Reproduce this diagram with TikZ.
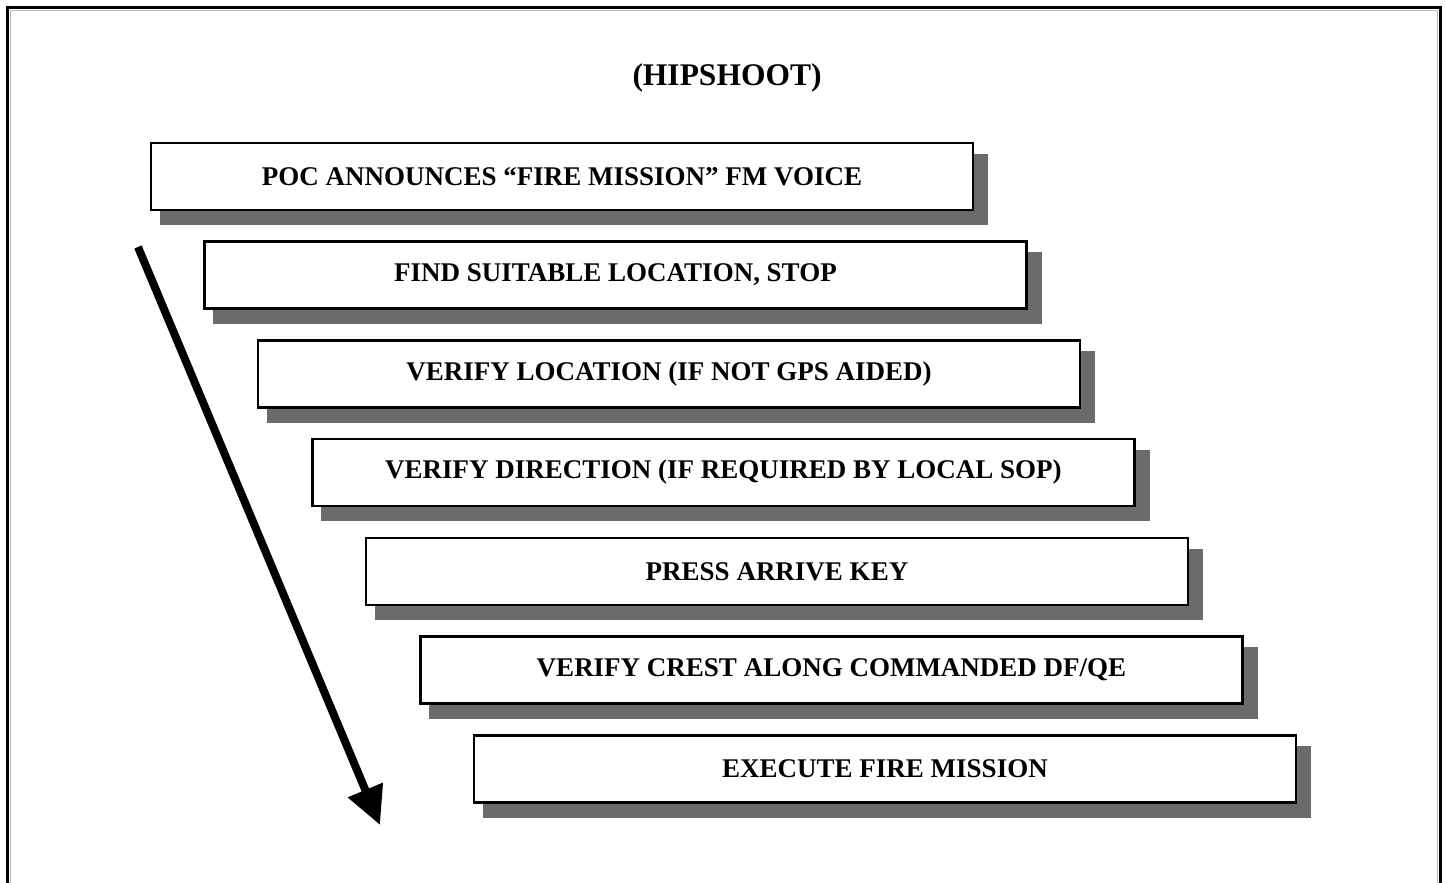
\documentclass[tikz,border=0pt]{standalone}
\usepackage{fontspec}
\setmainfont{Liberation Serif}
\usetikzlibrary{arrows.meta,backgrounds}
\definecolor{shadowgray}{HTML}{6B6B6B}
\definecolor{framegray}{HTML}{BDBDBD}
\tikzset{
  stepbox/.style={draw=black, line width=2.5pt, fill=white, minimum width=822pt,
    minimum height=67pt, inner sep=0pt, font=\bfseries\fontsize{27}{32}\selectfont},
  boxshadow/.style={fill=shadowgray},
  flowarrow/.style={line width=8pt, -{Triangle[length=38pt,width=36pt]}},
}
\newcommand{\shadowof}[1]{%
  \fill[boxshadow] ([xshift=10pt,yshift=-12pt]#1.north west) rectangle ([xshift=14pt,yshift=-14pt]#1.south east);}
\begin{document}
\begin{tikzpicture}[x=1pt,y=-1pt]
\useasboundingbox (0,0) rectangle (1445,883);
% open frame, running off the bottom edge
\draw[framegray, line width=1.5pt] (10.5,883) -- (10.5,10.5) -- (1437.5,10.5) -- (1437.5,883);
\draw[black, line width=3pt] (7.5,883) -- (7.5,7.5) -- (1440.5,7.5) -- (1440.5,883);

\node[font=\bfseries\fontsize{31.5}{36}\selectfont] (title) at (727,78) {(HIPSHOOT)};

\node[stepbox] (s1) at (562,176.5) {POC ANNOUNCES “FIRE MISSION” FM VOICE};
\node[stepbox] (s2) at (615.5,275) {FIND SUITABLE LOCATION, STOP};
\node[stepbox] (s3) at (669,374) {VERIFY LOCATION (IF NOT GPS AIDED)};
\node[stepbox] (s4) at (723.5,472.5) {VERIFY DIRECTION (IF REQUIRED BY LOCAL SOP)};
\node[stepbox] (s5) at (777,571.5) {PRESS ARRIVE KEY};
\node[stepbox] (s6) at (831.5,670) {VERIFY CREST ALONG COMMANDED DF/QE};
\node[stepbox] (s7) at (885,769) {EXECUTE FIRE MISSION};

\begin{scope}[on background layer]
  \foreach \s in {s1,s2,s3,s4,s5,s6,s7} {\shadowof{\s}}
\end{scope}

\coordinate (arrowstart) at (138,247);
\coordinate (arrowend) at (380,825);
\draw[flowarrow] (arrowstart) -- (arrowend);
\end{tikzpicture}
\end{document}
